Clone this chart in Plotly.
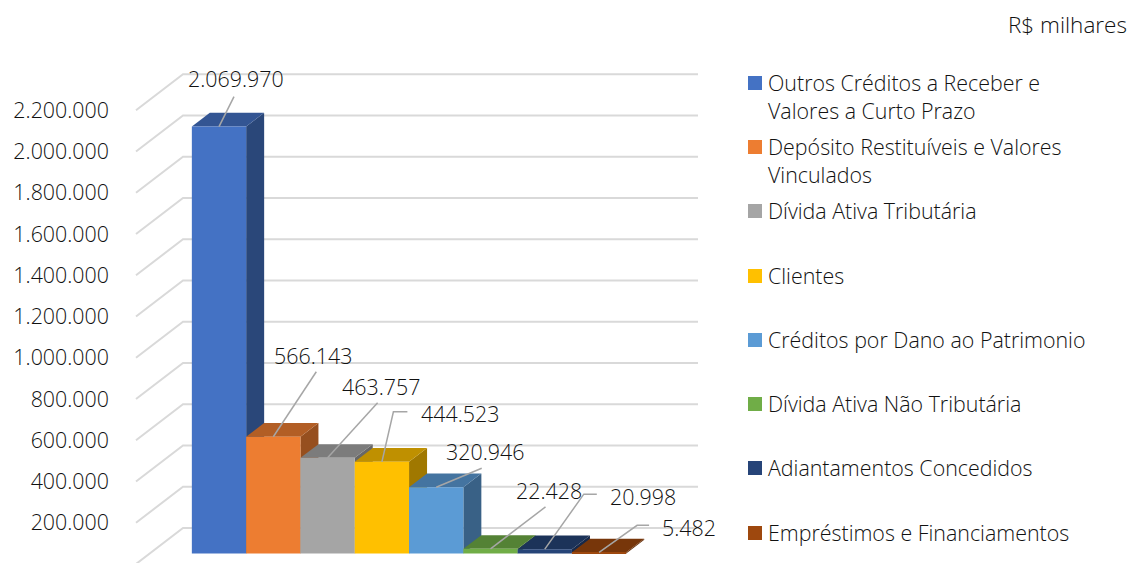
import plotly.graph_objects as go

CATEGORIES = ["Outros Créditos a Receber e<br>Valores a Curto Prazo",
              "Depósito Restituíveis e Valores<br>Vinculados",
              "Dívida Ativa Tributária", "Clientes",
              "Créditos por Dano ao Patrimonio",
              "Dívida Ativa Não Tributária", "Adiantamentos Concedidos",
              "Empréstimos e Financiamentos"]
VALUES = [2069970, 566143, 463757, 444523, 320946, 22428, 20998, 5482]
TICKS = [200000 * k for k in range(1, 12)]
TICK_LABELS = [f"{t:,}".replace(",", ".") for t in TICKS]

FRONT = ["#4472C4", "#ED7D31", "#A5A5A5", "#FFC000", "#5B9BD5", "#70AD47", "#264478", "#9E480E"]
TOP = ["#335593", "#B25E25", "#7C7C7C", "#BF9000", "#4474A0", "#548235", "#1C3359", "#77360A"]
SIDE = ["#2A4779", "#964F1F", "#676767", "#A07800", "#396186", "#466D2C", "#17294A", "#632D09"]

W, H = 1129, 563
PX_PER_VAL = 41.25 / 200000
PX_PER_BAR = 54.3
X0 = 219
Y0 = 564
def xu(px): return (px - X0) / PX_PER_BAR
def du(px): return px / PX_PER_BAR
def vu(px): return px / PX_PER_VAL

FLOOR = vu(10.5)
BAR_DX, BAR_DY = du(18), vu(13.7)
WALL_L, WALL_M, WALL_R, WALL_DY = 136, 183, 698, vu(36)
FONT = "Open Sans"
TXT = "#111111"
SIZE = 21.4

fig = go.Figure()

gx, gy = [], []
for t in [0] + TICKS:
    gx += [xu(WALL_L), xu(WALL_M), xu(WALL_R), None]
    gy += [t, t + WALL_DY, t + WALL_DY, None]
fig.add_trace(go.Scatter(x=gx, y=gy, mode="lines", line=dict(color="#d9d9d9", width=2),
                         hoverinfo="skip", showlegend=False, zorder=0))

for i, v in enumerate(VALUES):
    xl, xr, top, base = i - .5, i + .5, FLOOR + v, FLOOR
    fig.add_trace(go.Scatter(x=[xr, xr, xr + BAR_DX, xr + BAR_DX, xr],
                             y=[base, top, top + BAR_DY, base + BAR_DY, base],
                             fill="toself", fillcolor=SIDE[i], mode="none",
                             hoverinfo="skip", showlegend=False, zorder=1 + i))
    fig.add_trace(go.Scatter(x=[xl, xr, xr + BAR_DX, xl + BAR_DX, xl],
                             y=[top, top, top + BAR_DY, top + BAR_DY, top],
                             fill="toself", fillcolor=TOP[i], mode="none",
                             hoverinfo="skip", showlegend=False, zorder=1 + i))

for i, v in enumerate(VALUES):
    fig.add_trace(go.Bar(x=[i], y=[v], base=FLOOR, width=1, marker_color=FRONT[i],
                         marker_line_width=0, name=CATEGORIES[i].replace("<br>", " "),
                         showlegend=False, zorder=20))

LEADER_PX = [[(15, -30)], [(43, -65)], [(50, -55)], [(11.5, -50), (25.5, -50)],
             [(45.5, -19)], [(55, -42)], [(39, -55), (52, -55)], [(38, -27), (50, -27)]]
LABEL_PX = [(17, -48), (40, -81), (53, -71), (78, -48), (48.5, -36), (58, -58), (98, -53), (90, -25)]

lx, ly = [], []
annotations = []
for i, v in enumerate(VALUES):
    top = FLOOR + v
    lx += [i] + [i + du(p[0]) for p in LEADER_PX[i]] + [None]
    ly += [top] + [top - vu(p[1]) for p in LEADER_PX[i]] + [None]
    annotations.append(dict(x=i, y=top, xref="x", yref="y", showarrow=False,
                            xshift=LABEL_PX[i][0], yshift=-LABEL_PX[i][1],
                            text=f"{v:,}".replace(",", "."),
                            font=dict(family=FONT, size=SIZE, color=TXT, weight=300)))
fig.add_trace(go.Scatter(x=lx, y=ly, mode="lines", line=dict(color="#a6a6a6", width=1.5),
                         hoverinfo="skip", showlegend=False, zorder=30))

LEG_Y = [96, 160, 210, 275, 339, 403, 467, 532]
SWATCH_Y = [83, 147, 211, 276, 340, 404, 468, 533]
shapes = []
for i, name in enumerate(CATEGORIES):
    annotations.append(dict(x=768 / W, y=1 - LEG_Y[i] / H, xref="paper", yref="paper",
                            xanchor="left", yanchor="middle", align="left", showarrow=False,
                            xshift=-2, text=name,
                            font=dict(family=FONT, size=SIZE, color=TXT, weight=300)))
    shapes.append(dict(type="rect", xref="paper", yref="paper", line_width=0, fillcolor=FRONT[i],
                       x0=748 / W, x1=762 / W, y0=1 - (SWATCH_Y[i] + 7) / H, y1=1 - (SWATCH_Y[i] - 7) / H))
annotations.append(dict(x=1129 / W, y=1 - 24 / H, xref="paper", yref="paper", xanchor="right",
                        yanchor="middle", showarrow=False, text="R$ milhares",
                        font=dict(family=FONT, size=22.5, color=TXT, weight=300)))

fig.update_layout(
    width=W, height=H, margin=dict(l=0, r=0, t=0, b=0), autosize=False,
    paper_bgcolor="white", plot_bgcolor="white", showlegend=False, barmode="overlay",
    annotations=annotations, shapes=shapes,
    xaxis=dict(range=[xu(0), xu(W)], visible=False, domain=[0, 1]),
    yaxis=dict(range=[(Y0 - H) / PX_PER_VAL, Y0 / PX_PER_VAL], anchor="free", position=109 / W,
               tickmode="array", tickvals=TICKS, ticktext=TICK_LABELS, showgrid=False,
               zeroline=False, showline=False, ticks="", ticklabelstandoff=0,
               tickfont=dict(family=FONT, size=SIZE, color=TXT, weight=300)),
)
fig.write_html("out.html", config=dict(displayModeBar=False),
               post_script="document.body.style.margin='0';document.documentElement.style.overflow='hidden';")
